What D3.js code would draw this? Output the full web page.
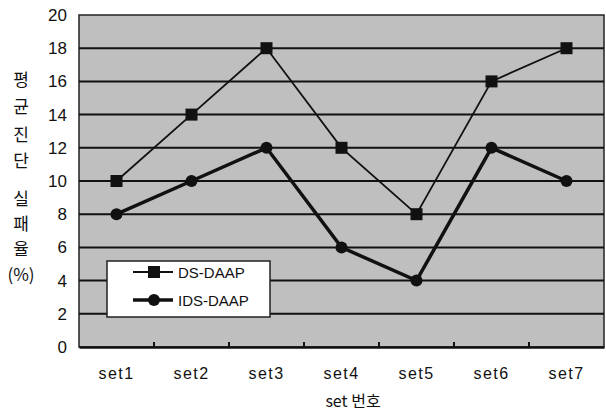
<!DOCTYPE html>
<html>
<head>
<meta charset="utf-8">
<script src="https://cdn.jsdelivr.net/npm/d3@7"></script>
<style>
body { margin: 0; background: #fff; }
text { font-family: "Liberation Sans", Arial, sans-serif; fill: #111; }
</style>
</head>
<body>
<div id="main"></div>
<script>
var categories = ["set1", "set2", "set3", "set4", "set5", "set6", "set7"];
var dsValues = [10, 14, 18, 12, 8, 16, 18];
var idsValues = [8, 10, 12, 6, 4, 12, 10];
var yTicks = [0, 2, 4, 6, 8, 10, 12, 14, 16, 18, 20];
var yTitle = ["평", "균", "진", "단", "실", "패", "율", "(%)"];

var width = 606, height = 412;
var plotLeft = 79, plotRight = 604, plotTop = 15, plotBottom = 347;

var svg = d3.select("#main").append("svg")
    .attr("width", width)
    .attr("height", height);

var x = d3.scaleBand().domain(categories).range([plotLeft, plotRight]);
var y = d3.scaleLinear().domain([0, 20]).range([plotBottom, plotTop]);

// plot area
svg.append("rect")
    .attr("x", plotLeft).attr("y", plotTop)
    .attr("width", plotRight - plotLeft).attr("height", plotBottom - plotTop)
    .attr("fill", "#bfbfbf")
    .attr("stroke", "#222").attr("stroke-width", 1.5);

// grid lines
svg.selectAll(".grid")
    .data(yTicks.filter(function(d){ return d > 0 && d < 20; }))
    .enter().append("line")
    .attr("class", "grid")
    .attr("x1", plotLeft).attr("x2", plotRight)
    .attr("y1", function(d){ return y(d); })
    .attr("y2", function(d){ return y(d); })
    .attr("stroke", "#111").attr("stroke-width", 2);

// y axis labels
svg.selectAll(".ylab")
    .data(yTicks)
    .enter().append("text")
    .attr("class", "ylab")
    .attr("x", 67)
    .attr("y", function(d){ return y(d) + 6; })
    .attr("text-anchor", "end")
    .style("font-size", "17px")
    .text(function(d){ return d; });

// x axis
var xAxis = d3.axisBottom(x).tickSize(0).tickFormat("");
svg.append("g")
    .attr("transform", "translate(0," + plotBottom + ")")
    .call(xAxis)
    .select(".domain").attr("stroke", "#111").attr("stroke-width", 2.5);

svg.selectAll(".xtick")
    .data(categories.slice(1))
    .enter().append("line")
    .attr("class", "xtick")
    .attr("x1", function(d){ return x(d); })
    .attr("x2", function(d){ return x(d); })
    .attr("y1", plotBottom - 5).attr("y2", plotBottom)
    .attr("stroke", "#111").attr("stroke-width", 2);

svg.selectAll(".xlab")
    .data(categories)
    .enter().append("text")
    .attr("class", "xlab")
    .attr("x", function(d){ return x(d) + x.bandwidth() / 2; })
    .attr("y", 379)
    .attr("text-anchor", "middle")
    .style("font-size", "16px")
    .style("letter-spacing", "1.5px")
    .text(function(d){ return d; });

svg.append("text")
    .attr("x", 353).attr("y", 407)
    .attr("text-anchor", "middle")
    .style("font-size", "16px")
    .style("font-family", "'Noto Sans CJK KR', sans-serif")
    .text("set 번호");

// y title
var titleY = [86, 113, 141, 167, 205, 230, 255, 281];
svg.selectAll(".ytitle")
    .data(yTitle)
    .enter().append("text")
    .attr("class", "ytitle")
    .attr("x", 21)
    .attr("y", function(d, i){ return titleY[i]; })
    .attr("text-anchor", "middle")
    .style("font-size", "17px")
    .style("font-family", "'Noto Sans CJK KR', sans-serif")
    .text(function(d){ return d; });

var cx = function(d, i){ return x(categories[i]) + x.bandwidth() / 2; };

var line = d3.line()
    .x(cx)
    .y(function(d){ return y(d); });

svg.append("path")
    .datum(dsValues)
    .attr("d", line)
    .attr("fill", "none")
    .attr("stroke", "#111").attr("stroke-width", 1.8);

svg.append("path")
    .datum(idsValues)
    .attr("d", line)
    .attr("fill", "none")
    .attr("stroke", "#111").attr("stroke-width", 3.5);

svg.selectAll(".sq")
    .data(dsValues)
    .enter().append("rect")
    .attr("class", "sq")
    .attr("x", function(d, i){ return cx(d, i) - 6; })
    .attr("y", function(d){ return y(d) - 6; })
    .attr("width", 12).attr("height", 12)
    .attr("fill", "#111");

svg.selectAll(".dot")
    .data(idsValues)
    .enter().append("circle")
    .attr("class", "dot")
    .attr("cx", cx)
    .attr("cy", function(d){ return y(d); })
    .attr("r", 6)
    .attr("fill", "#111");

// legend
var legend = svg.append("g");
legend.append("rect")
    .attr("x", 107).attr("y", 261)
    .attr("width", 163).attr("height", 56)
    .attr("fill", "#fff")
    .attr("stroke", "#222").attr("stroke-width", 1.5);

legend.append("line")
    .attr("x1", 133).attr("x2", 173).attr("y1", 272).attr("y2", 272)
    .attr("stroke", "#111").attr("stroke-width", 1.8);
legend.append("rect")
    .attr("x", 148).attr("y", 266).attr("width", 12).attr("height", 12)
    .attr("fill", "#111");
legend.append("text")
    .attr("x", 178).attr("y", 278)
    .style("font-size", "15px")
    .text("DS-DAAP");

legend.append("line")
    .attr("x1", 133).attr("x2", 173).attr("y1", 300).attr("y2", 300)
    .attr("stroke", "#111").attr("stroke-width", 3.5);
legend.append("circle")
    .attr("cx", 154).attr("cy", 300).attr("r", 6)
    .attr("fill", "#111");
legend.append("text")
    .attr("x", 178).attr("y", 306)
    .style("font-size", "15px")
    .text("IDS-DAAP");
</script>
</body>
</html>
